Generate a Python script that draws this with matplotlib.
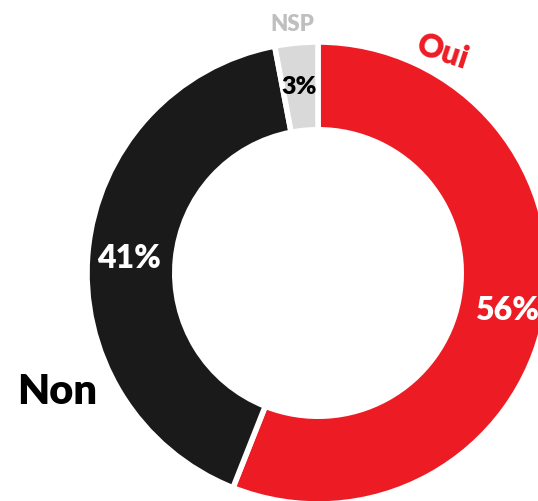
import matplotlib
matplotlib.use('Agg')
import matplotlib.pyplot as plt

# sondage Oui / Non / NSP
labels = ['Oui', 'Non', 'NSP']
values = [56, 41, 3]
pct_labels = ['56%', '41%', '3%']
colors = ['#ED1C24', '#1A1A1A', '#D9D9D9']

plt.rcParams['font.family'] = ['Lato', 'DejaVu Sans']
wt = 'heavy'

W, H = 538, 501
fig = plt.figure(figsize=(W/100, H/100), dpi=100)
ax = fig.add_axes([0, 0, 1, 1])

cx, cy, r = 318, H - 273, 231
ax.pie(values, colors=colors, startangle=90, counterclock=False,
       center=(cx, cy), radius=r, frame=True,
       wedgeprops=dict(width=0.38*r, edgecolor='white', linewidth=4))
ax.set_xlim(0, W)
ax.set_ylim(0, H)
ax.set_aspect('equal')
ax.axis('off')

# pourcentages dans l'anneau
ax.text(507, H-310, pct_labels[0], color='white', fontsize=23, fontweight=wt, ha='center', va='center')
ax.text(129, H-258, pct_labels[1], color='white', fontsize=23, fontweight=wt, ha='center', va='center')
ax.text(299, H-87, pct_labels[2], color='black', fontsize=18, fontweight=wt, ha='center', va='center')

# noms des reponses
ax.text(442, H-52, labels[0], color='#ED1C24', fontsize=23, fontweight=wt, ha='center', va='center', rotation=-18)
ax.text(57, H-392, labels[1], color='black', fontsize=30, fontweight=wt, ha='center', va='center')
ax.text(292, H-24, labels[2], color='#BFBFBF', fontsize=16, fontweight=wt, ha='center', va='center')

fig.savefig('out.png', dpi=100, facecolor='white')
